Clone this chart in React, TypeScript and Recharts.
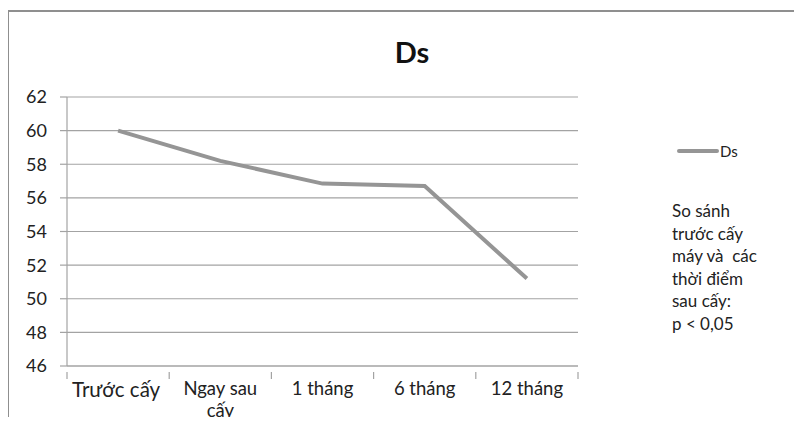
import React from "react";
import { LineChart, Line, XAxis, YAxis, CartesianGrid, Text } from "recharts";

const categories = ["Trước cấy", "Ngay sau cấy", "1 tháng", "6 tháng", "12 tháng"];
const dsValues = [60, 58.2, 56.85, 56.7, 51.2];
const yTicks = [46, 48, 50, 52, 54, 56, 58, 60, 62];
const noteLines = ["So sánh", "trước cấy", "máy và  các", "thời điểm", "sau cấy:", "p < 0,05"];

const data = categories.map((name, i) => ({ name, Ds: dsValues[i] }));

const FONT = "Lato, 'Open Sans', sans-serif";
const GRID = "#a3a3a3";
const LINE = "#959595";
const FRAME = "#8f8f8f";

// Label centred in the band, with tick marks on the band edges (Excel style)
function CategoryTick({ x, y, payload, index, visibleTicksCount }: any) {
  const half = payload.offset ?? 0;
  const last = index === visibleTicksCount - 1;
  return (
    <g>
      <line x1={x - half} y1={y - 11} x2={x - half} y2={y - 4} stroke={GRID} strokeWidth={1.2} />
      {last && <line x1={x + half} y1={y - 11} x2={x + half} y2={y - 4} stroke={GRID} strokeWidth={1.2} />}
      <Text
        x={index === 0 ? x - 2 : x}
        y={y - 1}
        width={index === 0 ? 120 : 82}
        textAnchor="middle"
        verticalAnchor="start"
        lineHeight={22}
        fontFamily={FONT}
        fontSize={index === 0 ? 20.5 : 18.5}
        fill="#222"
      >
        {payload.value}
      </Text>
    </g>
  );
}

export default function App() {
  return (
    <div style={{ position: "relative", margin: -8, width: 802, height: 425, background: "#fff", overflow: "hidden" }}>
      <div
        style={{
          position: "absolute",
          left: 0,
          top: 34,
          width: 824,
          textAlign: "center",
          fontFamily: FONT,
          fontWeight: 700,
          fontSize: 29,
          color: "#111",
        }}
      >
        Ds
      </div>
      <div style={{ position: "absolute", left: 0, top: 0 }}>
        <LineChart width={802} height={425} data={data} margin={{ top: 97, right: 224, left: 0, bottom: 0 }}>
          <CartesianGrid vertical={false} stroke={GRID} strokeWidth={1.2} />
          <XAxis
            dataKey="name"
            scale="band"
            height={59}
            axisLine={{ stroke: GRID, strokeWidth: 1.2 }}
            tickLine={false}
            tickMargin={11}
            interval={0}
            tick={<CategoryTick />}
          />
          <YAxis
            width={67}
            domain={[46, 62]}
            ticks={yTicks}
            interval={0}
            axisLine={{ stroke: GRID, strokeWidth: 1.2 }}
            tickLine={{ stroke: GRID, strokeWidth: 1.2 }}
            tickSize={7}
            tickMargin={13}
            tick={{ fill: "#222", fontSize: 18, fontFamily: FONT }}
          />
          <Line
            type="linear"
            dataKey="Ds"
            stroke={LINE}
            strokeWidth={4}
            dot={false}
            activeDot={false}
            isAnimationActive={false}
          />
        </LineChart>
      </div>
      <div
        style={{
          position: "absolute",
          left: 677,
          top: 142,
          display: "flex",
          alignItems: "center",
          fontFamily: FONT,
          fontSize: 15,
          color: "#222",
        }}
      >
        <svg width={42} height={6}>
          <line x1={2} y1={3} x2={40} y2={3} stroke={LINE} strokeWidth={4} strokeLinecap="round" />
        </svg>
        <span style={{ marginLeft: 1 }}>Ds</span>
      </div>
      <div
        style={{
          position: "absolute",
          left: 672,
          top: 200,
          fontFamily: FONT,
          fontSize: 17,
          lineHeight: "22.6px",
          color: "#222",
          whiteSpace: "pre",
        }}
      >
        {noteLines.join("\n")}
      </div>
      {/* outer frame: top and left edges only */}
      <div style={{ position: "absolute", zIndex: 10, left: 7, top: 10, width: 795, height: 2, background: FRAME }} />
      <div style={{ position: "absolute", zIndex: 10, left: 7, top: 10, width: 2, height: 415, background: FRAME }} />
    </div>
  );
}
